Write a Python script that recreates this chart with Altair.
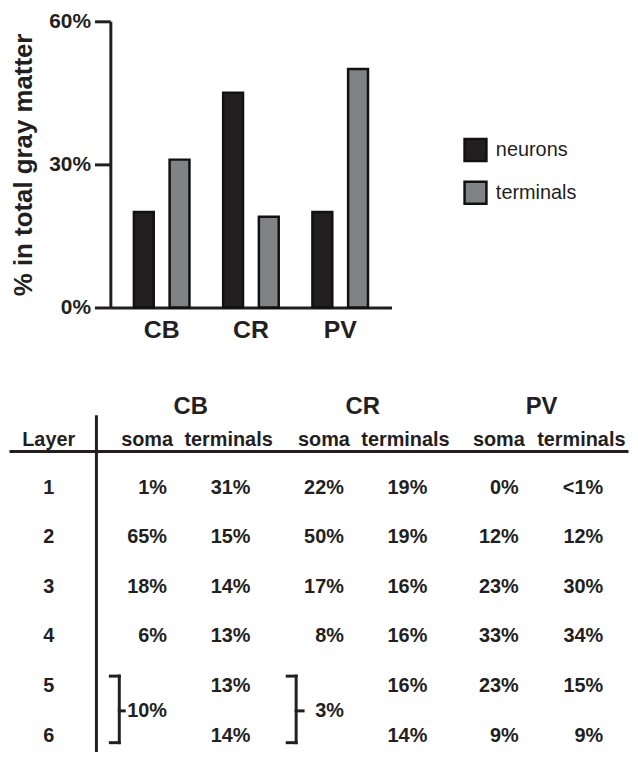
import altair as alt
import pandas as pd

# ---------------- data ----------------
groups = ["CB", "CR", "PV"]
series = ["neurons", "terminals"]
neurons_pct = [20, 45, 20]
terminals_pct = [31, 19, 50]
y_tick_values = [0, 30, 60]
y_title = "% in total gray matter"

layers = ["1", "2", "3", "4", "5", "6"]
table_corner = "Layer"
sub_headers = ["soma", "terminals"]
cb_soma = ["1%", "65%", "18%", "6%"]
cb_terminals = ["31%", "15%", "14%", "13%", "13%", "14%"]
cr_soma = ["22%", "50%", "17%", "8%"]
cr_terminals = ["19%", "19%", "16%", "16%", "16%", "14%"]
pv_soma = ["0%", "12%", "23%", "33%", "23%", "9%"]
pv_terminals = ["<1%", "12%", "30%", "34%", "15%", "9%"]
soma_layers_5_6 = {"CB": "10%", "CR": "3%"}   # soma value shared by layers 5-6

# ---------------- style / layout ----------------
FONT = "Liberation Sans"
INK = "#231f20"
FILLS = ["#231f20", "#808285"]

# table column slots -> pixel offsets from the table's plot origin
X_SLOTS = [
    ("hl_left", -100), ("layer", -62), ("vline", -14),
    ("CB_bl", 0), ("CB_br", 9), ("CB_bt", 14), ("CB_sh", 37), ("CB_s", 57),
    ("CB_g", 81), ("CB_th", 119), ("CB_t", 141),
    ("CR_bl", 178), ("CR_br", 187), ("CR_bt", 194), ("CR_sh", 215), ("CR_s", 235),
    ("CR_g", 254), ("CR_th", 297), ("CR_t", 319),
    ("PV_sh", 391), ("PV_s", 411), ("PV_g", 434), ("PV_th", 474), ("PV_t", 496),
    ("hl_right", 520),
]
# table row slots -> pixel offsets from the table's plot top
Y_SLOTS = [
    ("grp", 90), ("vtop", 100), ("sub", 123), ("hline", 135),
    ("r1", 172), ("r2", 221.5), ("r3", 271), ("r4", 320.5),
    ("br_top", 361), ("r5", 371), ("br_mid", 396), ("r6", 421),
    ("br_bot", 428), ("vbot", 436),
]
XI = {k: i for i, (k, _) in enumerate(X_SLOTS)}
YI = {k: i for i, (k, _) in enumerate(Y_SLOTS)}
x_scale = alt.Scale(domain=list(range(len(X_SLOTS))), range=[p for _, p in X_SLOTS])
y_scale = alt.Scale(domain=list(range(len(Y_SLOTS))), range=[p for _, p in Y_SLOTS])

# ---------------- bar chart ----------------
bar_rows = []
for g, n, t in zip(groups, neurons_pct, terminals_pct):
    bar_rows.append({"group": g, "series": series[0], "value": n})
    bar_rows.append({"group": g, "series": series[1], "value": t})
bar_df = pd.DataFrame(bar_rows)

bars = alt.Chart(bar_df).mark_bar(stroke="#111111", strokeWidth=2.5).encode(
    x=alt.X("group:N", sort=groups,
            scale=alt.Scale(paddingInner=0, paddingOuter=0.075),
            axis=alt.Axis(title=None, labelAngle=0, labelFont=FONT, labelFontSize=25,
                          labelFontWeight="bold", labelColor=INK, ticks=False,
                          labelPadding=10, domainColor=INK, domainWidth=3)),
    xOffset=alt.XOffset("series:N", sort=series,
                        scale=alt.Scale(paddingInner=0.444, paddingOuter=0.472)),
    y=alt.Y("value:Q", scale=alt.Scale(domain=[0, 60], nice=False),
            axis=alt.Axis(values=y_tick_values, labelExpr="datum.value + '%'",
                          title=y_title, titleFont=FONT, titleFontSize=26,
                          titleFontWeight="bold", titleColor=INK, titlePadding=12,
                          tickSize=16, tickWidth=3, tickColor=INK,
                          domainColor=INK, domainWidth=3, grid=False,
                          labelFont=FONT, labelFontSize=21, labelFontWeight="bold",
                          labelColor=INK, labelPadding=4)),
    color=alt.Color("series:N", sort=series,
                    scale=alt.Scale(domain=series, range=FILLS),
                    legend=alt.Legend(title=None, orient="none", legendX=355, legendY=117,
                                      symbolType="square", symbolSize=484,
                                      symbolStrokeColor="#111111", symbolStrokeWidth=2.5,
                                      symbolOpacity=1, labelFont=FONT, labelFontSize=20,
                                      labelColor=INK, rowPadding=10, labelOffset=8,
                                      padding=0)),
).properties(width=283, height=288)

# ---------------- table ----------------
num_rows = []
for g, soma, term in [("CB", cb_soma, cb_terminals), ("CR", cr_soma, cr_terminals),
                      ("PV", pv_soma, pv_terminals)]:
    for i, v in enumerate(soma):
        num_rows.append({"xs": XI[g + "_s"], "ys": YI["r%d" % (i + 1)], "label": v})
    for i, v in enumerate(term):
        num_rows.append({"xs": XI[g + "_t"], "ys": YI["r%d" % (i + 1)], "label": v})
for g, v in soma_layers_5_6.items():
    num_rows.append({"xs": XI[g + "_s"], "ys": YI["br_mid"], "label": v})
num_df = pd.DataFrame(num_rows)

head_rows = [{"xs": XI["layer"], "ys": YI["sub"], "label": table_corner}]
for g in groups:
    head_rows.append({"xs": XI[g + "_sh"], "ys": YI["sub"], "label": sub_headers[0]})
    head_rows.append({"xs": XI[g + "_th"], "ys": YI["sub"], "label": sub_headers[1]})
for i, l in enumerate(layers):
    head_rows.append({"xs": XI["layer"], "ys": YI["r%d" % (i + 1)], "label": l})
head_df = pd.DataFrame(head_rows)

grp_df = pd.DataFrame([{"xs": XI[g + "_g"], "ys": YI["grp"], "label": g} for g in groups])

seg = [("hl_left", "hline", "hl_right", "hline"), ("vline", "vtop", "vline", "vbot")]
for g in soma_layers_5_6:
    seg += [(g + "_bl", "br_top", g + "_br", "br_top"),
            (g + "_br", "br_top", g + "_br", "br_bot"),
            (g + "_bl", "br_bot", g + "_br", "br_bot"),
            (g + "_br", "br_mid", g + "_bt", "br_mid")]
rule_df = pd.DataFrame([{"xs": XI[a], "ys": YI[b], "xs2": XI[c], "ys2": YI[d]}
                        for a, b, c, d in seg])

X = alt.X("xs:Q", scale=x_scale, axis=None)
Y = alt.Y("ys:Q", scale=y_scale, axis=None)

numbers = alt.Chart(num_df).mark_text(
    align="right", baseline="middle", font=FONT, fontSize=20, fontWeight="bold", color=INK
).encode(x=X, y=Y, text="label:N")

heads = alt.Chart(head_df).mark_text(
    align="center", baseline="middle", font=FONT, fontSize=20, fontWeight="bold", color=INK
).encode(x=X, y=Y, text="label:N")

grp_heads = alt.Chart(grp_df).mark_text(
    align="center", baseline="middle", font=FONT, fontSize=24, fontWeight="bold", color=INK
).encode(x=X, y=Y, text="label:N")

rules = alt.Chart(rule_df).mark_rule(color=INK, strokeWidth=3, strokeCap="square").encode(
    x=X, y=Y, x2="xs2:Q", y2="ys2:Q"
)

table = alt.layer(rules, numbers, heads, grp_heads).properties(width=520, height=436)

chart = alt.vconcat(bars, table, spacing=10, bounds="flush").properties(
    padding=0
).configure(font=FONT).configure_view(stroke="transparent", strokeWidth=0)

chart.save("out.html", embed_options={"renderer": "svg", "actions": False})
